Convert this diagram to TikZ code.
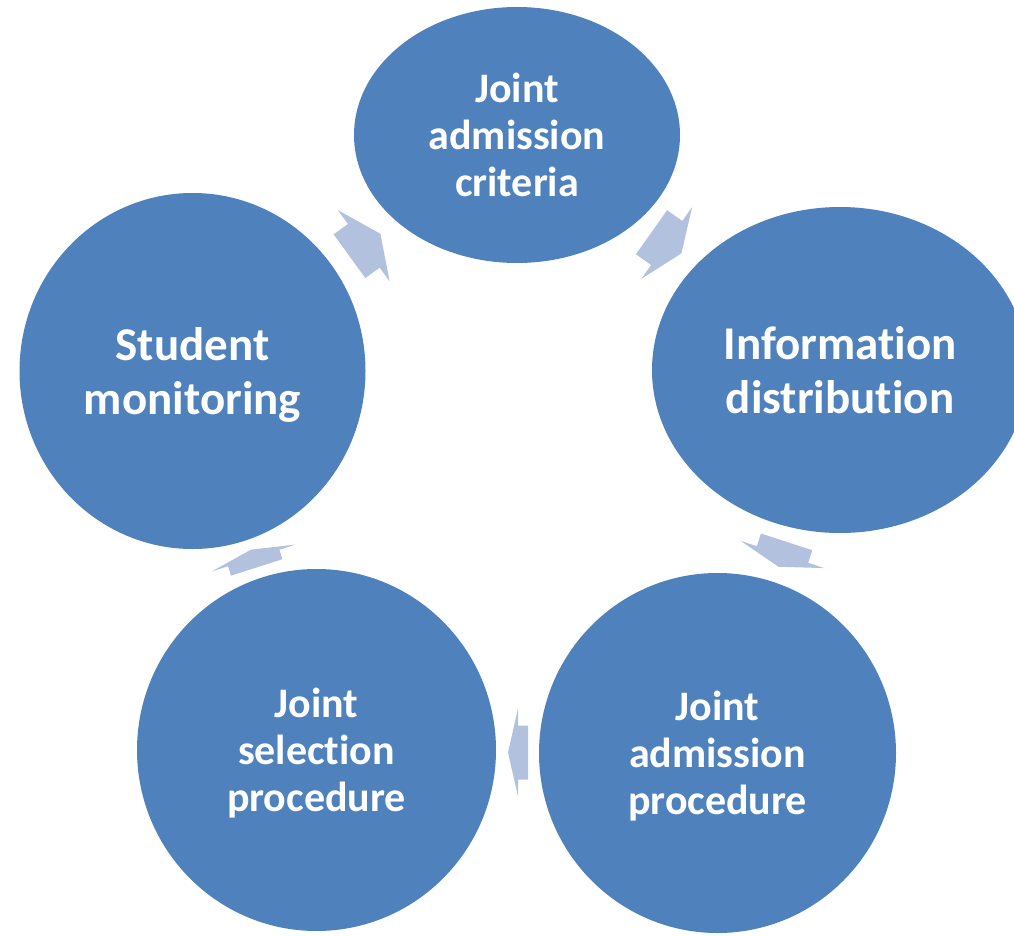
\documentclass[tikz,border=0pt]{standalone}
\usepackage{fontspec}
\setmainfont{Carlito}[Ligatures=NoCommon]
\usetikzlibrary{shapes.geometric}
\definecolor{circblue}{RGB}{79,129,189}
\definecolor{arrowblue}{RGB}{178,194,222}
\tikzset{
  stage/.style={ellipse, fill=circblue, draw=none, inner sep=0pt, text=white,
    font=\bfseries\fontsize{42}{47}\selectfont, align=center, text depth=0pt},
  bigstage/.style={stage, font=\bfseries\fontsize{47}{54}\selectfont},
  cyc/.style={fill=arrowblue, draw=none}
}
% block arrow: position, angle, head length, shaft length
\newcommand\cycarrow[4]{%
  \begin{scope}[shift={#1}, rotate=#2]
    \fill[cyc] (-#4pt,27pt) -- (0pt,27pt) -- (0pt,44pt) -- (#3pt,0pt)
      -- (0pt,-44pt) -- (0pt,-27pt) -- (-#4pt,-27pt) -- cycle;
  \end{scope}}
\begin{document}
\begin{tikzpicture}[x=1pt,y=-1pt]
\useasboundingbox (0,0) rectangle (1014,936);
\clip (0,0) rectangle (1014,936);
\node[stage, minimum width=326pt, minimum height=256pt] (crit) at (517,135) {Joint\\admission\\criteria};
\node[bigstage, minimum width=376pt, minimum height=326pt] (info) at (840,370) {Information\\distribution};
\node[stage, minimum width=357pt, minimum height=360pt] (adm) at (717.5,753) {Joint\\admission\\procedure};
\node[stage, minimum width=359pt, minimum height=362pt] (sel) at (316.5,750) {Joint\\selection\\procedure};
\node[bigstage, minimum width=346pt, minimum height=356pt] (mon) at (192.5,371) {Student\\monitoring};
\coordinate (a1) at (363.8,245.8);
\coordinate (a2) at (666.7,243);
\coordinate (a3) at (782.5,554.5);
\coordinate (a4) at (518,752.5);
\coordinate (a5) at (253.7,558);
\cycarrow{(a1)}{36}{20.5}{17.7}
\cycarrow{(a2)}{-35.3}{18}{18.6}
\cycarrow{(a3)}{-108}{12.9}{13.3}
\cycarrow{(a4)}{180}{10}{10}
\cycarrow{(a5)}{107.8}{8.8}{9.9}
\end{tikzpicture}
\end{document}
